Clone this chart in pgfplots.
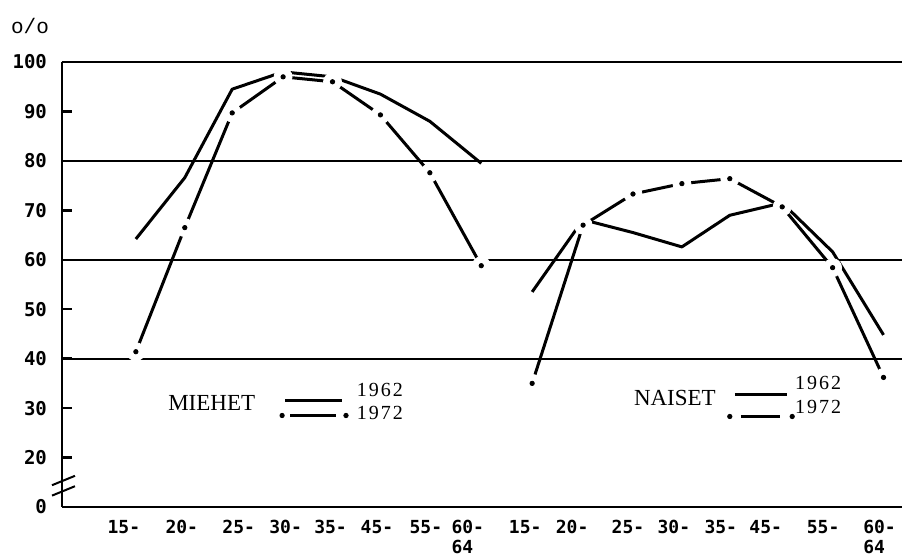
\documentclass[border=0pt]{standalone}
\usepackage{fontspec}
\setmainfont{Liberation Serif}
\newfontfamily\tickfont{DejaVu Sans Mono}
\newfontfamily\yearfont[LetterSpace=10]{Liberation Serif}
\newfontfamily\typefont{Liberation Mono}
\usepackage{pgfplots}
\pgfplotsset{compat=1.18}

% participation rates by age group, men (miehet) and women (naiset)
\pgfplotstableread{
x     m62   m72
0.00  64.2  41.4
0.98  76.6  66.5
1.93  94.5  89.7
2.95  98.0  97.0
3.94  97.0  96.0
4.90  93.5  89.3
5.89  88.0  77.6
6.92  79.5  58.8
}\miehet
\pgfplotstableread{
x     n62   n72
7.94  53.5  35.0
8.96  68.1  67.0
9.96  65.5  73.3
10.94 62.6  75.4
11.90 69.0  76.4
12.95 71.5  70.7
13.96 61.6  58.4
14.98 44.8  36.2
}\naiset

\begin{document}
\begin{tikzpicture}
\begin{axis}[
  scale only axis, width=420pt, height=222.5pt,
  xmin=-1.48, xmax=15.35, ymin=10, ymax=100,
  axis x line*=bottom, axis y line*=left,
  axis line style={line width=1.2pt},
  axis on top, clip=false,
  xtick={-0.24,0.92,2.06,3.0,3.9,4.83,5.81,6.65,7.8,8.74,9.86,10.78,11.72,12.62,13.77,14.9},
  xticklabels={15-,20-,25-,30-,35-,45-,55-,{60-\\64},15-,20-,25-,30-,35-,45-,55-,{60-\\64}},
  x tick style={draw=none},
  xticklabel style={font=\tickfont\bfseries\fontsize{9}{10}\selectfont, align=left, anchor=north, yshift=-3pt},
  ytick={10,20,...,100},
  yticklabels={0,20,30,40,50,60,70,80,90,100},
  y tick style={line width=1.2pt, black},
  tick align=inside, major tick length=5pt,
  yticklabel style={font=\tickfont\bfseries\fontsize{9.5}{10}\selectfont, xshift=-4pt},
  extra y ticks={40,60,80,100}, extra y tick labels={},
  extra y tick style={grid=major, major grid style={line width=0.9pt, black}},
  every axis plot/.append style={line join=round},
]
% 1972: solid line, gaps cut around vertices, dot at each vertex
\addplot[black, line width=1.5pt] table[y=m72] {\miehet};
\addplot[only marks, mark=*, mark size=4.5pt, white] table[y=m72] {\miehet};
\addplot[only marks, mark=*, mark size=1.1pt, black] table[y=m72] {\miehet};
\addplot[black, line width=1.5pt] table[y=n72] {\naiset};
\addplot[only marks, mark=*, mark size=4.5pt, white] table[y=n72] {\naiset};
\addplot[only marks, mark=*, mark size=1.1pt, black] table[y=n72] {\naiset};
% 1962
\addplot[black, line width=1.5pt] table[y=m62] {\miehet};
\addplot[black, line width=1.5pt] table[y=n62] {\naiset};

% legend samples
\node[font=\fontsize{11.5}{13}\selectfont] at (axis cs:1.52,31.1) {MIEHET};
\addplot[black, line width=1.5pt] coordinates {(2.99,31.5) (4.13,31.5)};
\addplot[black, line width=1.5pt] coordinates {(3.09,28.5) (4.0,28.5)};
\addplot[only marks, mark=*, mark size=1.1pt, black] coordinates {(2.93,28.5) (4.21,28.5)};
\node[font=\yearfont\fontsize{10}{11}\selectfont] at (axis cs:4.89,33.7) {1962};
\node[font=\yearfont\fontsize{10}{11}\selectfont] at (axis cs:4.89,29.1) {1972};

\node[font=\fontsize{11.5}{13}\selectfont] at (axis cs:10.8,32.1) {NAISET};
\addplot[black, line width=1.5pt] coordinates {(12.0,32.7) (13.05,32.7)};
\addplot[black, line width=1.5pt] coordinates {(12.12,28.3) (12.9,28.3)};
\addplot[only marks, mark=*, mark size=1.1pt, black] coordinates {(11.9,28.3) (13.15,28.3)};
\node[font=\yearfont\fontsize{10}{11}\selectfont] at (axis cs:13.67,35.0) {1962};
\node[font=\yearfont\fontsize{10}{11}\selectfont] at (axis cs:13.67,30.3) {1972};

% axis break
\draw[line width=1pt] (axis cs:-1.68,14.4) -- (axis cs:-1.22,16.3);
\draw[line width=1pt] (axis cs:-1.68,12.3) -- (axis cs:-1.22,14.2);
\end{axis}
\node[font=\typefont\fontsize{10.5}{12}\selectfont] at ([shift={(-16pt,18pt)}]current axis.north west) {o/o};
\pgfresetboundingbox
\path[use as bounding box] ([shift={(-31pt,-24.5pt)}]current axis.south west) rectangle ([shift={(0pt,31pt)}]current axis.north east);
\end{tikzpicture}
\end{document}
